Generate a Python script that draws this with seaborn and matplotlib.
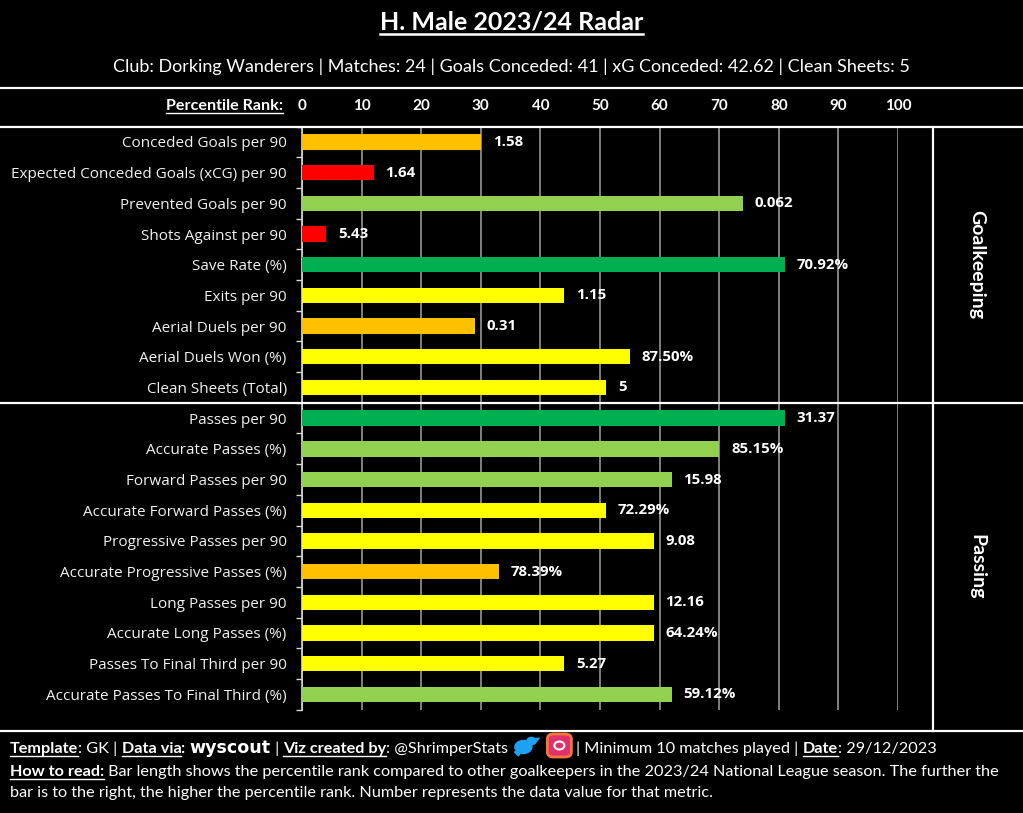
import matplotlib
matplotlib.use('Agg')
import pandas as pd
import matplotlib.pyplot as plt
import matplotlib.transforms as mtransforms
from matplotlib.lines import Line2D
from matplotlib.patches import FancyBboxPatch, Circle, Ellipse, Polygon
import seaborn as sns

# =============================
# DATA
# =============================
gk_metrics = ['Conceded Goals per 90', 'Expected Conceded Goals (xCG) per 90', 'Prevented Goals per 90',
              'Shots Against per 90', 'Save Rate (%)', 'Exits per 90', 'Aerial Duels per 90',
              'Aerial Duels Won (%)', 'Clean Sheets (Total)']
gk_percentile = [30, 12, 74, 4, 81, 44, 29, 55, 51]
gk_values = ['1.58', '1.64', '0.062', '5.43', '70.92%', '1.15', '0.31', '87.50%', '5']
gk_band = ['orange', 'red', 'lightgreen', 'red', 'green', 'yellow', 'orange', 'yellow', 'yellow']

pass_metrics = ['Passes per 90', 'Accurate Passes (%)', 'Forward Passes per 90', 'Accurate Forward Passes (%)',
                'Progressive Passes per 90', 'Accurate Progressive Passes (%)', 'Long Passes per 90',
                'Accurate Long Passes (%)', 'Passes To Final Third per 90', 'Accurate Passes To Final Third (%)']
pass_percentile = [81, 70, 62, 51, 59, 33, 59, 59, 44, 62]
pass_values = ['31.37', '85.15%', '15.98', '72.29%', '9.08', '78.39%', '12.16', '64.24%', '5.27', '59.12%']
pass_band = ['green', 'lightgreen', 'lightgreen', 'yellow', 'yellow', 'orange', 'yellow', 'yellow', 'yellow',
             'lightgreen']

percentile_ticks = list(range(0, 101, 10))

title = 'H. Male 2023/24 Radar'
subtitle = 'Club: Dorking Wanderers | Matches: 24 | Goals Conceded: 41 | xG Conceded: 42.62 | Clean Sheets: 5'

band_colours = {'red': '#FF0000', 'orange': '#FFC000', 'yellow': '#FFFF00',
                'lightgreen': '#92D050', 'green': '#00B050'}

df = pd.DataFrame({
    'Metric': gk_metrics + pass_metrics,
    'Percentile': gk_percentile + pass_percentile,
    'Value': gk_values + pass_values,
    'Band': gk_band + pass_band,
})
palette = {m: band_colours[b] for m, b in zip(df['Metric'], df['Band'])}

# =============================
# FIGURE
# =============================
W, H = 1023, 813
HEAD = 'Lato'
LABEL = 'Open Sans'
fig = plt.figure(figsize=(W / 100, H / 100), dpi=100, facecolor='black')
ax = fig.add_axes([302 / W, 1 - 709.7 / H, 596 / W, (709.7 - 126.6) / H], facecolor='black')

sns.barplot(data=df, x='Percentile', y='Metric', hue='Metric', palette=palette, legend=False,
            orient='h', width=0.5, saturation=1, linewidth=0, zorder=3, ax=ax)

ax.set_xlim(0, 100)
ax.set_ylim(len(df) - 0.5, -0.5)
ax.set_xlabel('')
ax.set_ylabel('')
ax.set_xticks(percentile_ticks)
ax.xaxis.tick_top()
ax.grid(axis='x', color='#808080', lw=1.4, zorder=0)
ax.set_axisbelow(True)
for s in ['top', 'right', 'bottom']:
    ax.spines[s].set_visible(False)
ax.spines['left'].set_color('#d9d9d9')
ax.spines['left'].set_linewidth(1.2)

ax.tick_params(axis='x', length=0, pad=9.5, labelcolor='white', labelsize=11)
for lab in ax.get_xticklabels():
    lab.set_fontweight('bold')
    lab.set_family(HEAD)

ax.set_yticks([i - 0.5 for i in range(len(df) + 1)], minor=True)
ax.tick_params(axis='y', which='major', length=0, pad=11, labelcolor='#f2f2f2', labelsize=11)
ax.tick_params(axis='y', which='minor', length=4, width=1, color='#d9d9d9', direction='out')
for lab in ax.get_yticklabels():
    lab.set_family(LABEL)

# value labels
for i, (p, v) in enumerate(zip(df['Percentile'], df['Value'])):
    ax.text(p + 2, i, v, color='white', fontsize=10.8, fontweight='bold', family=LABEL,
            va='center', ha='left', clip_on=False)

# =============================
# FRAME LINES
# =============================
def hline(y_px, x0=0, x1=W, lw=1.6):
    fig.add_artist(Line2D([x0 / W, x1 / W], [1 - y_px / H] * 2, color='white', lw=lw,
                          transform=fig.transFigure))

hline(88)
hline(126.6)
hline(731)
sep = mtransforms.blended_transform_factory(fig.transFigure, ax.transData)
fig.add_artist(Line2D([0, 1], [len(gk_metrics) - 0.5] * 2, color='white', lw=1.6, transform=sep))
fig.add_artist(Line2D([933 / W] * 2, [1 - 126.6 / H, 1 - 731 / H], color='white', lw=1.6,
                      transform=fig.transFigure))

fig.text(977 / W, 1 - 265 / H, 'Goalkeeping', rotation=270, color='white', fontsize=14,
         fontweight='bold', family=HEAD, ha='center', va='center')
fig.text(977 / W, 1 - 567 / H, 'Passing', rotation=270, color='white', fontsize=14,
         fontweight='bold', family=HEAD, ha='center', va='center')

# =============================
# TEXT HELPERS
# =============================
renderer = fig.canvas.get_renderer()


def underline(t, y_px, lw=1.3):
    bb = t.get_window_extent(renderer)
    fig.add_artist(Line2D([bb.x0 / W, bb.x1 / W], [1 - y_px / H] * 2, color='white', lw=lw,
                          transform=fig.transFigure))


def rich_line(x_px, base_px, parts, size=11.7):
    x = x_px
    for part in parts:
        txt, weight, under = part[:3]
        family = part[3] if len(part) > 3 else HEAD
        fsize = part[4] if len(part) > 4 else size
        t = fig.text(x / W, 1 - base_px / H, txt, color='white', fontsize=fsize, fontweight=weight,
                     family=family, va='baseline', ha='left')
        bb = t.get_window_extent(renderer)
        if under:
            underline(t, base_px + 2.5, lw=1.0)
        x += bb.width
    return x


# title + subtitle
t = fig.text(0.5, 1 - 30 / H, title, color='white', fontsize=18, fontweight='bold', family=HEAD,
             ha='center', va='baseline')
underline(t, 34.5, lw=1.8)
fig.text(0.5, 1 - 72 / H, subtitle, color='white', fontsize=12.95, family=HEAD, ha='center', va='baseline')

t = fig.text(283 / W, 1 - 110 / H, 'Percentile Rank:', color='white', fontsize=11.6, fontweight='bold',
             family=HEAD, ha='right', va='baseline')
underline(t, 113, lw=1.0)

# footer
x_end = rich_line(10, 753, [
    ('Template', 'bold', True), (': GK | ', 'normal', False),
    ('Data via', 'bold', True), (': ', 'bold', False),
    ('wyscout', 'heavy', False, 'DejaVu Sans', 12.6), (' | ', 'normal', False),
    ('Viz created by', 'bold', True), (': @ShrimperStats ', 'normal', False),
])
# twitter + instagram icons
fig.add_artist(Ellipse(((x_end + 11) / W, 1 - 747 / H), 17 / W, 13 / H, color='#1DA1F2',
                       transform=fig.transFigure))
fig.add_artist(Polygon([((x_end + 2) / W, 1 - 752 / H), ((x_end + 10) / W, 1 - 750 / H),
                        ((x_end + 6) / W, 1 - 756 / H)], color='#1DA1F2', transform=fig.transFigure))
fig.add_artist(Circle(((x_end + 19) / W, 1 - 741 / H), 4.5 / W, color='#1DA1F2', transform=fig.transFigure))
fig.add_artist(Polygon([((x_end + 21) / W, 1 - 739 / H), ((x_end + 27) / W, 1 - 738 / H),
                        ((x_end + 22) / W, 1 - 744 / H)], color='#1DA1F2', transform=fig.transFigure))
fig.add_artist(FancyBboxPatch(((x_end + 35) / W, 1 - 757 / H), 24 / W, 23 / H,
                              boxstyle='round,pad=0,rounding_size=0.006', facecolor='#e1306c',
                              edgecolor='#f77737', lw=2, transform=fig.transFigure))
fig.add_artist(Circle(((x_end + 47) / W, 1 - 745.5 / H), 5 / W, fill=False, edgecolor='white', lw=1.5,
                      transform=fig.transFigure))
rich_line(x_end + 64, 753, [
    ('| Minimum 10 matches played | ', 'normal', False),
    ('Date', 'bold', True), (': 29/12/2023', 'normal', False),
])
rich_line(10, 776, [
    ('How to read:', 'bold', True),
    (' Bar length shows the percentile rank compared to other goalkeepers in the 2023/24 National League '
     'season. The further the', 'normal', False),
])
rich_line(10, 797, [
    ('bar is to the right, the higher the percentile rank. Number represents the data value for that metric.',
     'normal', False),
])

plt.savefig('out.png', dpi=100, facecolor='black')
plt.close()
